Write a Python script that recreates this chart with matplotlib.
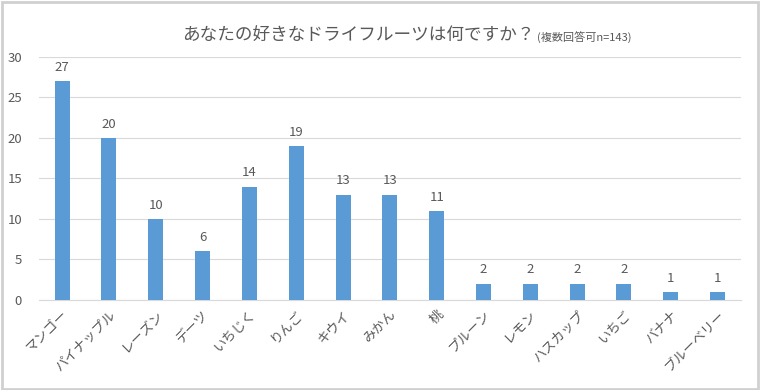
import matplotlib
matplotlib.use("Agg")
import matplotlib.pyplot as plt
from matplotlib.patches import Rectangle

plt.rcParams['font.family'] = ['Noto Sans CJK JP', 'DejaVu Sans']

# data
fruits = ["マンゴー", "パイナップル", "レーズン", "デーツ", "いちじく", "りんご", "キウイ",
          "みかん", "桃", "プルーン", "レモン", "ハスカップ", "いちご", "バナナ", "ブルーベリー"]
counts = [27, 20, 10, 6, 14, 19, 13, 13, 11, 2, 2, 2, 2, 1, 1]
yticks = [0, 5, 10, 15, 20, 25, 30]

text_col = "#595959"
bar_col = "#5B9BD5"

fig = plt.figure(figsize=(7.6, 3.9), dpi=100)
ax = fig.add_axes([0.051, 0.231, 0.924, 0.623])

x = list(range(len(fruits)))
bars = ax.bar(x, counts, width=0.32, color=bar_col, zorder=3)
for xi, v in zip(x, counts):
    ax.text(xi, v + 0.9, str(v), ha="center", va="bottom", fontsize=9.5, color=text_col)

ax.set_xlim(-0.5, len(fruits) - 0.5)
ax.set_ylim(0, 30)
ax.set_yticks(yticks)
ax.grid(axis="y", color="#D9D9D9", linewidth=0.8, zorder=0)
for s in ["top", "right", "left"]:
    ax.spines[s].set_visible(False)
ax.spines["bottom"].set_color("#D9D9D9")
ax.tick_params(axis="both", length=0, colors=text_col, labelsize=9.5)
ax.set_xticks(x)
ax.set_xticklabels(fruits, rotation=45, ha="right", rotation_mode="anchor", fontsize=9.5)
ax.tick_params(axis="x", pad=6)
ax.tick_params(axis="y", pad=12)

fig.text(0.24, 0.91, "あなたの好きなドライフルーツは何ですか？", fontsize=12.7, color=text_col,
         ha="left", va="center")
fig.text(0.707, 0.903, "(複数回答可n=143)", fontsize=8, color=text_col, ha="left", va="center")

# frame around the whole chart
fig.patches.append(Rectangle((0.002, 0.003), 0.995, 0.993, transform=fig.transFigure,
                             fill=False, edgecolor="#D0D0D0", linewidth=2))

fig.savefig("out.png", dpi=100)
